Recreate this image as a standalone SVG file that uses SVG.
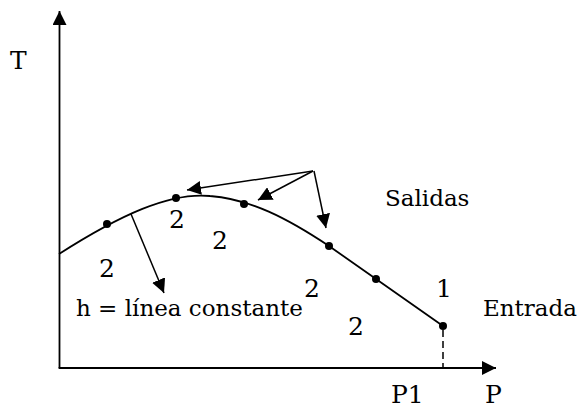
<svg xmlns="http://www.w3.org/2000/svg" width="581" height="409" viewBox="0 0 581 409">
<defs>
<marker id="ah" viewBox="0 0 14 14" markerWidth="14" markerHeight="14" refX="14" refY="7" orient="auto" markerUnits="userSpaceOnUse">
<path d="M0,0 L14,7 L0,14 z" fill="#000"/>
</marker>
<style>
.ln{stroke:#000;stroke-width:1.8;fill:none}
.ar{stroke:#000;stroke-width:1.5;fill:none;marker-end:url(#ah)}
.dot{fill:#000}
.w{font-size:23px}
.g{font-size:25px}
</style>
</defs>
<rect width="581" height="409" fill="#fff"/>
<g id="axes">
<line class="ar" x1="59.5" y1="368" x2="59.5" y2="11" style="stroke-width:1.8"/>
<line class="ar" x1="58.6" y1="368" x2="496" y2="368" style="stroke-width:1.8"/>
<line x1="443" y1="330" x2="443" y2="368" stroke="#000" stroke-width="1.5" stroke-dasharray="7,4"/>
</g>
<g id="curve">
<path class="ln" d="M59,254 C120,215 170,192 210,196 C250,199 287,218 329,246 L443,326"/>
</g>
<g id="points">
<circle class="dot" cx="107" cy="224" r="4"/>
<circle class="dot" cx="176" cy="198" r="4"/>
<circle class="dot" cx="244" cy="204" r="4"/>
<circle class="dot" cx="329" cy="246" r="4"/>
<circle class="dot" cx="376" cy="279" r="4"/>
<circle class="dot" cx="443" cy="326" r="4"/>
</g>
<g id="connectors">
<line class="ar" x1="313" y1="171" x2="187" y2="190"/>
<line class="ar" x1="313" y1="171" x2="258" y2="200"/>
<line class="ar" x1="314" y1="171" x2="326" y2="228"/>
<line class="ar" x1="131" y1="214" x2="164" y2="293"/>
</g>
<g id="labels" font-family="DejaVu Serif, serif" fill="#000">
<text class="g" x="10" y="69">T</text>
<text class="w" x="385" y="206">Salidas</text>
<text class="w" x="76" y="316">h = línea constante</text>
<text class="g" x="304" y="297">2</text>
<text class="g" x="99" y="277">2</text>
<text class="g" x="169" y="228">2</text>
<text class="g" x="212" y="249">2</text>
<text class="g" x="348" y="335">2</text>
<text class="g" x="436" y="297">1</text>
<text class="w" x="483" y="316">Entrada</text>
<text class="g" x="391" y="403">P1</text>
<text class="g" x="485" y="403">P</text>
</g>
</svg>
